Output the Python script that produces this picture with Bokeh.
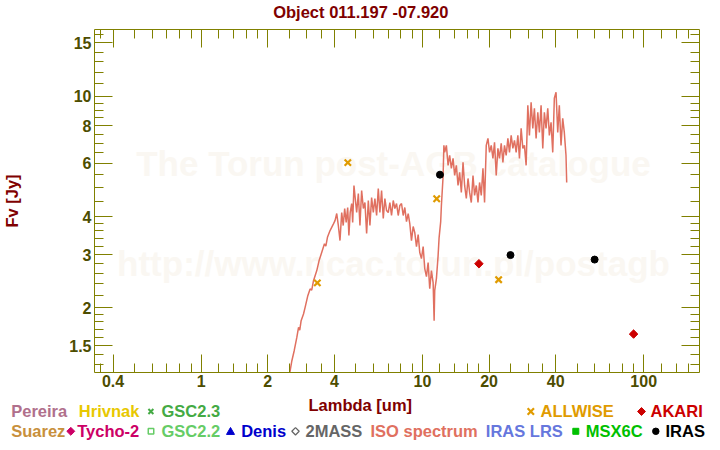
from bokeh.plotting import figure
from bokeh.models import LogAxis, FixedTicker, CustomJSTickFormatter, Label, ColumnDataSource, Range1d
from bokeh.layouts import column
from bokeh.core.properties import value
from bokeh.embed import file_html
from bokeh.resources import INLINE
import math

# ---------------- data ----------------
title_text = "Object 011.197 -07.920"
x_axis_title = "Lambda [um]"
y_axis_title = "Fv [Jy]"

x_major_ticks = [0.4, 1, 2, 4, 10, 20, 40, 100]
x_minor_ticks = [0.35, 0.5, 0.6, 0.7, 0.8, 0.9, 1.2, 1.4, 1.6, 1.8, 2.5, 3, 3.5,
                 5, 6, 7, 8, 9, 12, 14, 16, 18, 25, 30, 35, 50, 60, 70, 80, 90,
                 120, 140, 160]
y_major_ticks = [1.5, 2, 3, 4, 6, 8, 10, 15]
y_minor_ticks = [1.3, 1.4, 1.6, 1.7, 1.8, 1.9, 2.2, 2.4, 2.6, 2.8, 3.2, 3.4, 3.6,
                 3.8, 4.5, 5, 5.5, 6.5, 7, 7.5, 8.5, 9, 9.5, 11, 12, 13, 14, 16]

iso_wavelength = [
    2.49, 2.517, 2.570, 2.633, 2.706, 2.755, 2.79, 2.830, 2.901, 2.950, 3.034,
    3.107, 3.16, 3.219, 3.331, 3.412, 3.508, 3.608, 3.66, 3.722, 3.824, 3.961,
    4.027, 4.099, 4.163, 4.241, 4.317, 4.385, 4.453, 4.523, 4.594, 4.652, 4.715,
    4.789, 4.839, 4.904, 4.955, 5.044, 5.133, 5.219, 5.312, 5.407, 5.497, 5.595,
    5.694, 5.790, 5.893, 5.998, 6.098, 6.207, 6.317, 6.423, 6.537, 6.653, 6.765,
    6.885, 7.007, 7.125, 7.251, 7.380, 7.504, 7.638, 7.773, 7.903, 8.044, 8.187,
    8.324, 8.472, 8.623, 8.767, 8.923, 9.082, 9.234, 9.398, 9.566, 9.726, 9.899,
    10.075, 10.244, 10.426, 10.611, 10.789, 10.981, 11.176, 11.293, 11.363,
    11.565, 11.771, 11.894, 12.093, 12.181, 12.308, 12.398, 12.501,
    12.605, 12.830, 13.058, 13.276, 13.513, 13.753, 13.983, 14.232, 14.485,
    14.728, 14.990, 15.256, 15.512, 15.788, 16.069, 16.338, 16.628, 16.924,
    17.207, 17.514, 17.825, 18.123, 18.446, 18.774, 19.088, 19.428, 19.774,
    20.105, 20.462, 20.826, 21.175, 21.551, 21.935, 22.302, 22.699, 23.102,
    23.489, 23.907, 24.332, 24.740, 25.180, 25.628, 26.057, 26.520, 26.992,
    27.444, 27.932, 28.429, 28.905, 29.419, 29.942, 30.443, 30.985, 31.536,
    32.064, 32.634, 33.215, 33.771, 34.372, 34.983, 35.569, 36.202, 36.846,
    37.463, 38.129, 38.807, 39.457, 40.159, 40.873, 41.557, 42.296, 43.048,
    43.769, 44.547, 44.872,
]
iso_flux = [
    1.18, 1.225, 1.339, 1.445, 1.599, 1.725, 1.69, 1.816, 1.911, 2.009, 2.196,
    2.311, 2.29, 2.462, 2.658, 2.868, 3.054, 3.257, 3.20, 3.424, 3.603, 3.793,
    3.888, 4.101, 3.772, 3.339, 4.133, 3.743, 4.261, 3.830, 4.293, 3.469, 4.133,
    4.426, 3.830, 5.077, 4.705, 4.133, 4.777, 3.743, 4.888, 4.261, 4.460, 3.522,
    4.529, 3.743, 4.634, 4.133, 4.598, 4.040, 4.963, 4.133, 4.888, 3.948, 4.598,
    4.196, 4.133, 4.460, 4.040, 4.529, 4.261, 4.426, 4.040, 4.359, 4.426, 4.040,
    4.293, 3.858, 4.101, 3.801, 3.339, 3.715, 3.548, 3.190, 3.495, 3.048, 2.912,
    3.190, 2.698, 2.539, 2.824, 2.317, 2.658, 2.426, 1.816, 2.282,
    2.501, 2.979, 3.416, 3.858, 4.359, 4.963, 5.437, 6.887,
    6.529, 6.887, 5.913, 6.381, 5.780, 6.237, 5.479, 5.913, 5.077,
    5.606, 4.814, 6.050, 5.077, 4.598, 5.355, 4.814, 4.460, 5.479,
    4.705, 5.077, 4.460, 5.195, 4.705, 5.780, 4.460, 6.887, 7.263,
    6.529, 6.887, 6.237, 7.046, 5.479, 6.731, 6.237, 6.993, 6.050,
    6.887, 6.381, 7.263, 6.529, 7.431, 6.731, 7.153, 6.529, 7.431,
    6.237, 7.838, 6.731, 6.887, 5.913, 9.337, 7.431, 9.553, 7.838,
    9.126, 7.263, 8.853, 7.603, 9.337, 6.731, 8.853, 7.838, 9.126,
    7.431, 8.204, 6.529, 9.849, 10.309, 7.603, 9.337, 6.887, 8.458,
    7.603, 6.381, 5.195,
]

allwise_wavelength = [3.35, 4.6, 11.6, 22.1]
allwise_flux = [2.42, 6.04, 4.59, 2.48]
akari_wavelength = [18, 90]
akari_flux = [2.80, 1.64]
iras_wavelength = [12, 25, 60]
iras_flux = [5.51, 2.99, 2.89]

legend_row1_names = ["Pereira", "Hrivnak", "GSC2.3", "ALLWISE", "AKARI"]
legend_row2_names = ["Suarez", "Tycho-2", "GSC2.2", "Denis", "2MASS",
                     "ISO spectrum", "IRAS LRS", "MSX6C", "IRAS"]

# ---------------- style ----------------
AXIS = "#808000"
TICKLAB = "#4d4d00"
DARKRED = "#800000"
FONT = "Liberation Sans"
TXT = "16.5px"
ISO_COLOR = "#e07060"
ALLWISE_COLOR = "#e09b00"
AKARI_COLOR = "#cc0000"
W = 720
TOP_H = 29
MAIN_H = 364
BOT_H = 450 - TOP_H - MAIN_H


def blank_fig(h):
    f = figure(width=W, height=h, x_range=Range1d(0, W), y_range=Range1d(h, 0),
               x_axis_type=None, y_axis_type=None, output_backend="svg",
               toolbar_location=None, title=None, frame_align=False,
               min_border_left=0, min_border_right=0, min_border_top=0,
               min_border_bottom=0)
    f.outline_line_color = None
    f.background_fill_color = "white"
    f.border_fill_color = "white"
    return f


# ---------------- title strip ----------------
top = blank_fig(TOP_H)
top.text(x=[272.7], y=[11], text=[title_text], text_color=DARKRED,
         text_font=value(FONT), text_font_style="bold", text_font_size=TXT,
         text_baseline="alphabetic", text_align="left")

# ---------------- main plot ----------------
p = figure(width=W, height=MAIN_H, x_axis_type="log", y_axis_type="log",
           x_range=(0.3296, 178.7), y_range=(1.2245, 16.62),
           output_backend="svg", toolbar_location=None, title=None,
           frame_align=False,
           min_border_left=92, min_border_right=21, min_border_top=0,
           min_border_bottom=21)
p.background_fill_color = "white"
p.border_fill_color = "white"
p.outline_line_color = None
p.xgrid.visible = False
p.ygrid.visible = False


def style_axis(ax, ticks, minors, labels, standoff=3):
    ax.ticker = FixedTicker(ticks=ticks, minor_ticks=minors)
    ax.axis_line_color = AXIS
    ax.axis_line_width = 1
    ax.major_tick_line_color = AXIS
    ax.minor_tick_line_color = AXIS
    ax.major_tick_in = 18
    ax.major_tick_out = 0
    ax.minor_tick_in = 9
    ax.minor_tick_out = 0
    if labels:
        ax.formatter = CustomJSTickFormatter(code="return tick.toString()")
        ax.major_label_text_font = FONT
        ax.major_label_text_font_style = "bold"
        ax.major_label_text_font_size = "16px"
        ax.major_label_text_color = TICKLAB
        ax.major_label_standoff = standoff
    else:
        ax.formatter = CustomJSTickFormatter(code="return ''")
        ax.major_label_text_font_size = "0px"
        ax.major_label_standoff = 0


style_axis(p.xaxis[0], x_major_ticks, x_minor_ticks, True, standoff=2)
style_axis(p.yaxis[0], y_major_ticks, y_minor_ticks, True, standoff=3)
yax = p.yaxis[0]
yax.axis_label = y_axis_title
yax.axis_label_text_font = FONT
yax.axis_label_text_font_style = "bold"
yax.axis_label_text_font_size = TXT
yax.axis_label_text_color = DARKRED
yax.axis_label_standoff = 45

top_axis = LogAxis()
right_axis = LogAxis()
style_axis(top_axis, x_major_ticks, x_minor_ticks, False)
style_axis(right_axis, y_major_ticks, y_minor_ticks, False)
p.add_layout(top_axis, "above")
p.add_layout(right_axis, "right")

# watermark
for txt, xs, ys in [("The Torun post-AGB catalogue", 299, 209),
                    ("http://www.ncac.torun.pl/postagb", 299, 109)]:
    p.add_layout(Label(x=xs, y=ys, x_units="screen", y_units="screen", text=txt,
                       text_font=FONT, text_font_style="bold", text_font_size="35px",
                       text_color="#faf7f2", text_align="center",
                       text_baseline="alphabetic", level="underlay"))

iso_src = ColumnDataSource(dict(x=iso_wavelength, y=iso_flux))
p.line("x", "y", source=iso_src, line_color=ISO_COLOR, line_width=1.5)
p.scatter(allwise_wavelength, allwise_flux, marker="x", size=9, line_width=2.2,
          line_color=ALLWISE_COLOR)
p.scatter(akari_wavelength, akari_flux, marker="square", angle=math.pi / 4, size=6,
          fill_color=AKARI_COLOR, line_color=AKARI_COLOR)
p.scatter(iras_wavelength, iras_flux, marker="circle", size=7,
          fill_color="black", line_color="black")

# ---------------- legend strip ----------------
bot = blank_fig(BOT_H)
Y0 = TOP_H + MAIN_H  # page y of the strip top

bot.text(x=[308], y=[404 - Y0], text=[x_axis_title], text_color=DARKRED,
         text_font=value(FONT), text_font_style="bold", text_font_size=TXT,
         text_baseline="alphabetic", text_align="left")

row1_x = [10.7, 78.3, 161, 540, 650]
row1_c = ["#b0708c", "#e8c800", "#44aa44", ALLWISE_COLOR, AKARI_COLOR]
row2_x = [10.7, 76.7, 161, 240.7, 305, 370, 485.3, 585.3, 665]
row2_c = ["#c8903c", "#cc0066", "#66cc66", "#0000cc", "#666666", ISO_COLOR,
          "#6677dd", "#00c000", "#000000"]
leg_src = ColumnDataSource(dict(
    x=row1_x + row2_x,
    y=[410 - Y0] * len(row1_x) + [430 - Y0] * len(row2_x),
    t=legend_row1_names + legend_row2_names,
    c=row1_c + row2_c))
bot.text(x="x", y="y", text="t", text_color="c", source=leg_src,
         text_font=value(FONT), text_font_style="bold", text_font_size=TXT,
         text_baseline="alphabetic", text_align="left")

r1 = 411 - Y0
r2 = 430.8 - Y0
bot.scatter([150.4], [r1], marker="x", size=7, line_width=2, line_color="#44aa44")
bot.scatter([530.3], [r1], marker="x", size=9, line_width=2.2, line_color=ALLWISE_COLOR)
bot.scatter([641, 70.3], [r1, r2], marker="square", angle=math.pi / 4, size=5.6,
            fill_color=[AKARI_COLOR, "#cc0066"], line_color=[AKARI_COLOR, "#cc0066"])
bot.scatter([150.5], [r2], marker="square", size=5.5, fill_color=None,
            line_color="#66cc66", line_width=1.5)
bot.scatter([230], [r2 + 0.8], marker="triangle", size=8, fill_color="#0000cc",
            line_color="#0000cc")
bot.scatter([295], [r2], marker="square", angle=math.pi / 4, size=5.2, fill_color=None,
            line_color="#666666", line_width=1.3)
bot.scatter([575.3], [r2], marker="square", size=6, fill_color="#00c000",
            line_color="#00c000")
bot.scatter([655.3], [r2], marker="circle", size=6.5, fill_color="black",
            line_color="black")

layout = column(top, p, bot, spacing=0)
open("out.html", "w").write(file_html(layout, INLINE))
